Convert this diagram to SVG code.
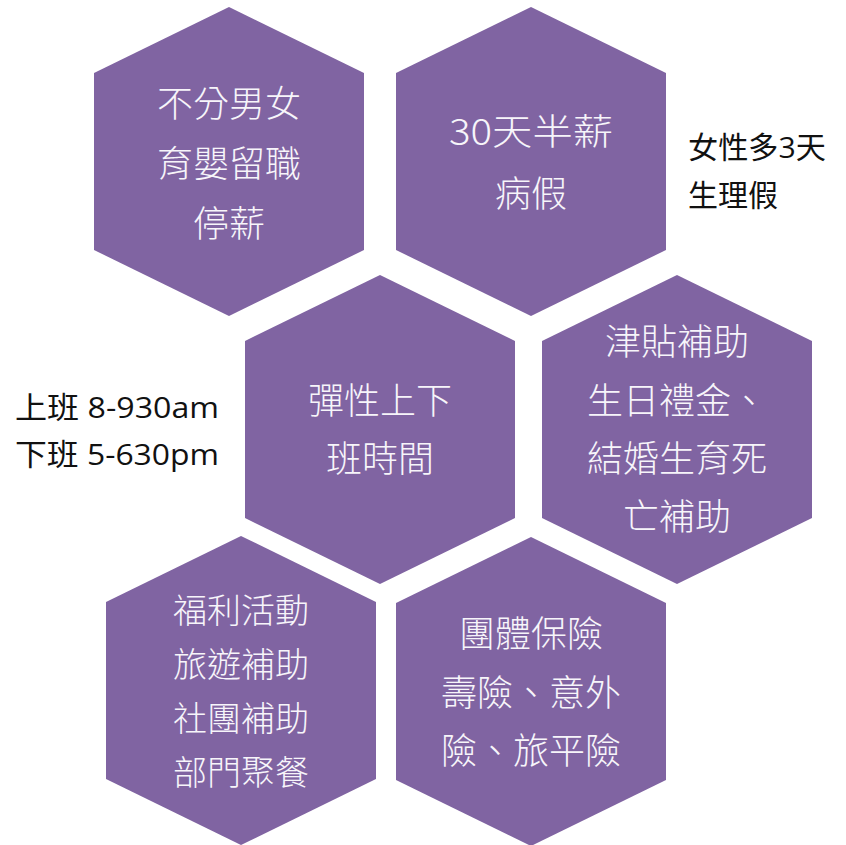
<svg xmlns="http://www.w3.org/2000/svg" width="846" height="845" viewBox="0 0 846 845">
<defs>
<style>
.hex{fill:#8064A2;}
.t{font-family:"Noto Sans CJK TC","Noto Sans CJK SC",sans-serif;font-weight:300;font-size:36px;fill:#F7F5FA;text-anchor:middle;}
.s{font-size:34px;}
.side{font-family:"Open Sans","Noto Sans CJK TC","Noto Sans CJK SC",sans-serif;font-size:30px;fill:#111111;}
</style>
<polygon id="hx" points="0,0 135,66 135,243 0,309 -135,243 -135,66"/>
</defs>
<rect width="846" height="845" fill="#FFFFFF"/>
<g id="connectors"></g>
<g id="node1">
<use href="#hx" class="hex" x="229" y="7"/>
<text class="t" x="229" y="117">不分男女</text>
<text class="t" x="229" y="177">育嬰留職</text>
<text class="t" x="229" y="237">停薪</text>
</g>
<g id="node2">
<use href="#hx" class="hex" x="531" y="7"/>
<text class="t" x="531" y="145" textLength="164" lengthAdjust="spacingAndGlyphs">30天半薪</text>
<text class="t" x="531" y="207">病假</text>
</g>
<g id="note1">
<text class="side" x="688" y="158" textLength="138" lengthAdjust="spacingAndGlyphs">女性多3天</text>
<text class="side" x="688" y="206">生理假</text>
</g>
<g id="note2">
<text class="side" x="15" y="418" textLength="204" lengthAdjust="spacingAndGlyphs">上班 8-930am</text>
<text class="side" x="15" y="465" textLength="204" lengthAdjust="spacingAndGlyphs">下班 5-630pm</text>
</g>
<g id="node3">
<use href="#hx" class="hex" x="380" y="275"/>
<text class="t" x="380" y="414">彈性上下</text>
<text class="t" x="380" y="472">班時間</text>
</g>
<g id="node4">
<use href="#hx" class="hex" x="677" y="275"/>
<text class="t" x="677" y="355">津貼補助</text>
<text class="t" x="677" y="414">生日禮金、</text>
<text class="t" x="677" y="472">結婚生育死</text>
<text class="t" x="677" y="530">亡補助</text>
</g>
<g id="node5">
<use href="#hx" class="hex" x="241" y="536"/>
<text class="t s" x="241" y="623">福利活動</text>
<text class="t s" x="241" y="677">旅遊補助</text>
<text class="t s" x="241" y="731">社團補助</text>
<text class="t s" x="241" y="785">部門聚餐</text>
</g>
<g id="node6">
<use href="#hx" class="hex" x="531" y="537"/>
<text class="t" x="531" y="647">團體保險</text>
<text class="t" x="531" y="706">壽險、意外</text>
<text class="t" x="531" y="764">險、旅平險</text>
</g>
</svg>
